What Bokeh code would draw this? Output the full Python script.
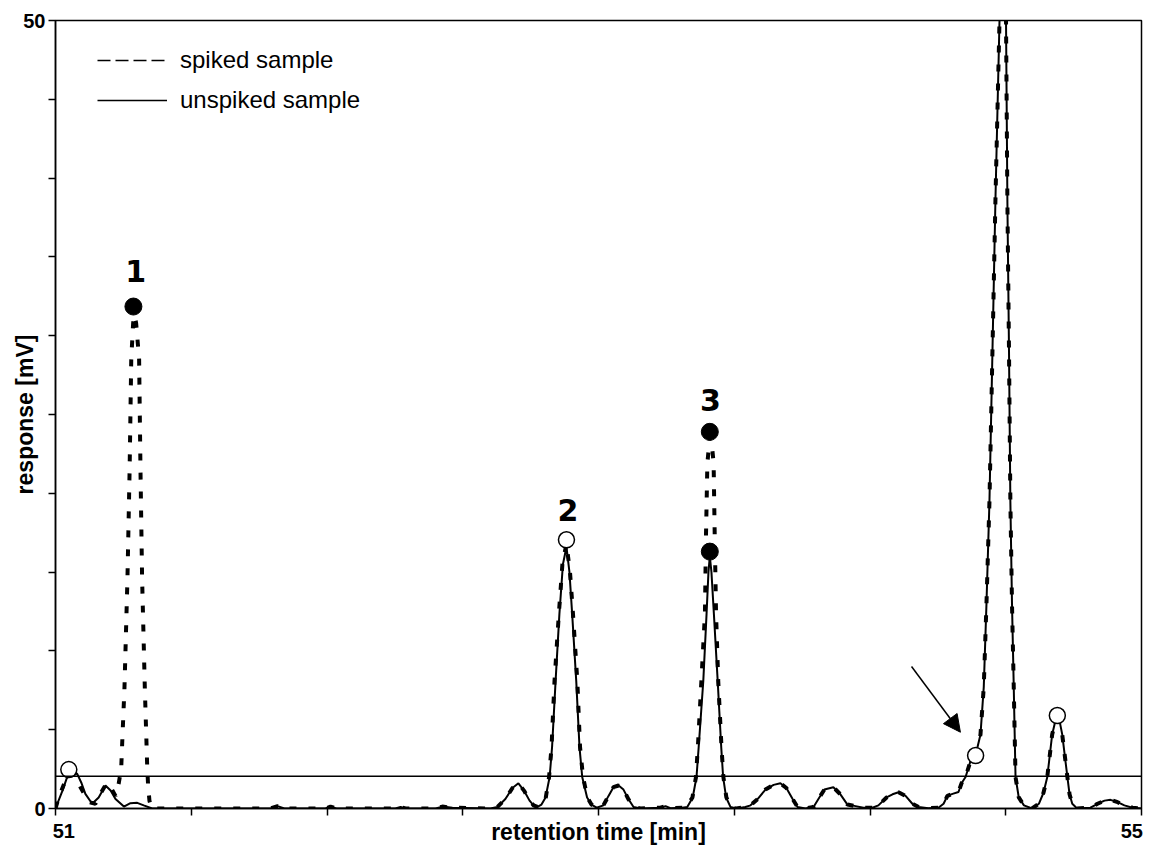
import math
from bokeh.plotting import figure
from bokeh.models import (Span, Arrow, NormalHead, FixedTicker, Legend, LegendItem)
from bokeh.embed import file_html
from bokeh.resources import INLINE
from bokeh.core.properties import value

# ---------------- data ----------------
x_ticks = [51, 51.5, 52, 52.5, 53, 53.5, 54, 54.5, 55]
y_ticks = [0, 5, 10, 15, 20, 25, 30, 35, 40, 45, 50]
x_tick_labels = {51: "\u00a0\u00a0\u00a051", 55: "55\u00a0"}
y_tick_labels = {0: "0", 50: "50"}
x_title = "retention time [min]"
y_title = "response [mV]"
threshold = 2.05

unspiked_t = [51.000, 51.025, 51.041, 51.059, 51.080, 51.096, 51.110, 51.135, 51.159, 51.184,
              51.203, 51.221, 51.252, 51.276, 51.301, 51.325, 51.356, 51.792, 51.818, 51.843,
              51.994, 52.013, 52.035, 52.252, 52.271, 52.289, 52.400, 52.425, 52.462, 52.602,
              52.628, 52.657, 52.683, 52.705, 52.727, 52.746, 52.761, 52.775, 52.790, 52.805,
              52.820, 52.829, 52.842, 52.856, 52.869, 52.882, 52.893, 52.903, 52.918, 52.930,
              52.940, 52.958, 52.974, 52.993, 53.018, 53.037, 53.055, 53.074, 53.092, 53.110,
              53.129, 53.155, 53.228, 53.247, 53.265, 53.309, 53.327, 53.347, 53.361, 53.369,
              53.386, 53.398, 53.405, 53.410, 53.416, 53.425, 53.439, 53.452, 53.459, 53.470,
              53.486, 53.508, 53.541, 53.560, 53.586, 53.615, 53.645, 53.670, 53.692, 53.715,
              53.733, 53.762, 53.792, 53.810, 53.832, 53.865, 53.891, 53.917, 53.947, 53.976,
              54.009, 54.031, 54.061, 54.083, 54.105, 54.131, 54.156, 54.179, 54.215, 54.252,
              54.271, 54.285, 54.304, 54.326, 54.337, 54.352, 54.370, 54.389, 54.407, 54.419,
              54.429, 54.440, 54.451, 54.462, 54.477, 54.488, 54.501, 54.506, 54.512, 54.517,
              54.523, 54.529, 54.536, 54.548, 54.567, 54.597, 54.622, 54.639, 54.653, 54.671,
              54.682, 54.691, 54.700, 54.708, 54.727, 54.735, 54.745, 54.763, 54.812, 54.838,
              54.864, 54.886, 54.912, 54.937, 54.967, 55.000]
unspiked_mv = [0.0, 1.1, 1.9, 2.3, 2.2, 1.6, 0.93, 0.3, 0.7, 1.46,
               1.14, 0.6, 0.12, 0.34, 0.36, 0.2, 0.0, 0.0, 0.15, 0.0,
               0.0, 0.12, 0.0, 0.0, 0.1, 0.0, 0.0, 0.12, 0.05, 0.0,
               0.1, 0.6, 1.3, 1.6, 1.1, 0.5, 0.2, 0.1, 0.25, 0.7,
               2.0, 3.9, 8.1, 12.35, 15.5, 16.6, 15.0, 12.35, 8.1, 3.9,
               2.0, 0.7, 0.25, 0.05, 0.2, 0.8, 1.35, 1.46, 1.2, 0.6,
               0.1, 0.0, 0.05, 0.15, 0.02, 0.05, 0.1, 0.7, 2.0, 3.9,
               8.1, 12.35, 15.0, 16.0, 15.0, 12.35, 8.1, 3.9, 2.0, 0.7,
               0.1, 0.0, 0.1, 0.2, 0.6, 1.2, 1.5, 1.6, 1.3, 0.6,
               0.1, 0.0, 0.1, 0.6, 1.2, 1.35, 0.9, 0.25, 0.15, 0.05,
               0.05, 0.2, 0.7, 0.9, 1.03, 0.8, 0.3, 0.1, 0.02, 0.05,
               0.3, 0.8, 0.93, 1.05, 1.6, 2.0, 3.0, 3.4, 4.7, 7.7,
               13.0, 19.5, 29.0, 38.6, 50.0, 54.5, 50.0, 38.6, 29.0, 19.5,
               13.0, 8.1, 2.0, 0.7, 0.2, 0.0, 0.3, 1.0, 2.0, 4.7,
               5.5, 5.7, 5.4, 4.7, 2.0, 0.9, 0.3, 0.0, 0.05, 0.3,
               0.5, 0.55, 0.4, 0.2, 0.05, 0.0]

spiked_t = [51.000, 51.012, 51.037, 51.067, 51.092, 51.123, 51.147, 51.166, 51.188, 51.203,
            51.221, 51.233, 51.242, 51.246, 51.254, 51.265, 51.273, 51.279, 51.286, 51.291,
            51.297, 51.308, 51.313, 51.319, 51.329, 51.338, 51.341, 51.346, 51.354, 51.792,
            51.818, 51.843, 51.994, 52.013, 52.035, 52.252, 52.271, 52.289, 52.400, 52.425,
            52.462, 52.602, 52.628, 52.657, 52.683, 52.705, 52.727, 52.746, 52.761, 52.775,
            52.790, 52.805, 52.818, 52.827, 52.838, 52.854, 52.867, 52.882, 52.895, 52.906,
            52.922, 52.932, 52.943, 52.959, 52.974, 52.993, 53.018, 53.037, 53.055, 53.074,
            53.092, 53.110, 53.129, 53.155, 53.228, 53.247, 53.265, 53.309, 53.324, 53.346,
            53.359, 53.366, 53.379, 53.392, 53.396, 53.401, 53.410, 53.418, 53.424, 53.428,
            53.433, 53.441, 53.453, 53.460, 53.471, 53.489, 53.508, 53.541, 53.560, 53.586,
            53.615, 53.645, 53.670, 53.692, 53.715, 53.733, 53.762, 53.792, 53.810, 53.832,
            53.865, 53.891, 53.917, 53.947, 53.976, 54.009, 54.031, 54.061, 54.083, 54.105,
            54.131, 54.156, 54.179, 54.215, 54.252, 54.271, 54.285, 54.304, 54.326, 54.337,
            54.352, 54.370, 54.389, 54.407, 54.419, 54.429, 54.440, 54.451, 54.462, 54.477,
            54.488, 54.501, 54.506, 54.512, 54.517, 54.523, 54.529, 54.536, 54.548, 54.567,
            54.597, 54.622, 54.639, 54.653, 54.671, 54.682, 54.691, 54.700, 54.708, 54.727,
            54.735, 54.745, 54.763, 54.812, 54.838, 54.864, 54.886, 54.912, 54.937, 54.967,
            55.000]
spiked_mv = [0.0, 0.7, 1.8, 2.3, 1.35, 0.4, 0.3, 0.95, 1.6, 1.35,
             0.8, 1.6, 2.54, 4.3, 7.64, 14.58, 21.5, 28.5, 30.8, 31.3,
             30.8, 28.5, 21.5, 14.58, 7.64, 2.54, 1.5, 0.5, 0.0, 0.0,
             0.15, 0.0, 0.0, 0.12, 0.0, 0.0, 0.1, 0.0, 0.0, 0.12,
             0.05, 0.0, 0.1, 0.6, 1.3, 1.6, 1.1, 0.5, 0.2, 0.1,
             0.25, 0.6, 2.0, 3.9, 8.1, 12.35, 15.5, 16.8, 15.0, 12.35,
             8.1, 3.9, 2.0, 0.7, 0.25, 0.05, 0.2, 0.8, 1.35, 1.46,
             1.2, 0.6, 0.1, 0.0, 0.05, 0.15, 0.02, 0.05, 0.1, 0.7,
             2.0, 3.9, 8.1, 12.35, 17.4, 21.9, 23.6, 23.0, 21.9, 17.4,
             12.35, 8.1, 3.9, 2.0, 0.7, 0.05, 0.0, 0.1, 0.2, 0.6,
             1.2, 1.5, 1.6, 1.3, 0.6, 0.1, 0.0, 0.1, 0.6, 1.2,
             1.35, 0.9, 0.25, 0.15, 0.05, 0.05, 0.2, 0.7, 0.9, 1.03,
             0.8, 0.3, 0.1, 0.02, 0.05, 0.3, 0.8, 0.93, 1.05, 1.6,
             2.0, 3.0, 3.4, 4.7, 7.7, 13.0, 19.5, 29.0, 38.6, 50.0,
             54.5, 50.0, 38.6, 29.0, 19.5, 13.0, 8.1, 2.0, 0.7, 0.2,
             0.0, 0.3, 1.0, 2.0, 4.7, 5.5, 5.7, 5.4, 4.7, 2.0,
             0.9, 0.3, 0.0, 0.05, 0.3, 0.5, 0.55, 0.4, 0.2, 0.05,
             0.0]

open_t = [51.049, 52.882, 54.389, 54.690]
open_mv = [2.47, 17.05, 3.36, 5.9]
filled_t = [51.287, 53.410, 53.410]
filled_mv = [31.85, 23.9, 16.3]
peak_names = ["1", "2", "3"]
peak_name_t = [51.295, 52.887, 53.412]
peak_name_mv = [34.1, 18.95, 25.9]
arrow_from = (54.153, 9.01)
arrow_to = (54.333, 4.84)
legend_labels = ["spiked sample", "unspiked sample"]

# ---------------- figure ----------------
p = figure(width=1148, height=850, x_range=(51, 55), y_range=(0, 50),
           output_backend="svg", toolbar_location=None,
           min_border_left=55, min_border_right=7, min_border_top=20,
           min_border_bottom=42)
p.background_fill_color = "white"
p.border_fill_color = "white"
p.outline_line_color = "black"
p.outline_line_width = 1.5
p.xgrid.grid_line_color = None
p.ygrid.grid_line_color = None

for ax, ticks, labels in ((p.xaxis[0], x_ticks, x_tick_labels),
                          (p.yaxis[0], y_ticks, y_tick_labels)):
    ax.ticker = FixedTicker(ticks=ticks)
    ax.major_label_overrides = {t: labels.get(t, "") for t in ticks}
    ax.major_label_text_font = "Liberation Sans"
    ax.major_label_text_font_style = "bold"
    ax.major_label_text_font_size = "20px"
    ax.major_label_text_color = "black"
    ax.axis_label_text_font = "Liberation Sans"
    ax.axis_label_text_font_style = "bold"
    ax.axis_label_text_font_size = "23px"
    ax.axis_label_text_color = "black"
    ax.axis_line_color = "black"
    ax.axis_line_width = 1.5
    ax.major_tick_line_color = "black"
    ax.major_tick_line_width = 1.5
    ax.major_tick_out = 7
    ax.major_tick_in = 0
    ax.minor_tick_line_color = None

p.xaxis.axis_label = x_title
p.xaxis.major_label_standoff = 4
p.xaxis.axis_label_standoff = -26
p.yaxis.axis_label = y_title
p.yaxis.major_label_standoff = 3
p.yaxis.axis_label_standoff = -18

# traces
p.line(unspiked_t, unspiked_mv, line_color="black", line_width=2)
p.line(spiked_t, spiked_mv, line_color="black", line_width=4, line_dash="7 12")

p.add_layout(Span(location=threshold, dimension="width", line_color="black", line_width=1.5))

p.scatter(open_t, open_mv, marker="circle", size=16, fill_color="white",
          line_color="black", line_width=1.5)
p.scatter(filled_t, filled_mv, marker="circle", size=17, fill_color="black",
          line_color="black", line_width=1)

p.text(x=peak_name_t, y=peak_name_mv, text=peak_names, text_font=value("DejaVu Sans"),
       text_font_style="bold", text_font_size="30px", text_align="center",
       text_baseline="middle", text_color="black")

p.add_layout(Arrow(end=NormalHead(size=17, fill_color="black", line_color="black"),
                   x_start=arrow_from[0], y_start=arrow_from[1],
                   x_end=arrow_to[0], y_end=arrow_to[1],
                   line_color="black", line_width=1.5))

# legend (thin sample lines, as in the original key)
nan = float("nan")
leg_dash = p.line([nan], [nan], line_color="black", line_width=1.5, line_dash="13 5")
leg_solid = p.line([nan], [nan], line_color="black", line_width=1.5)
legend = Legend(items=[LegendItem(label=legend_labels[0], renderers=[leg_dash]),
                       LegendItem(label=legend_labels[1], renderers=[leg_solid])],
                location=(42, 693), border_line_color=None, background_fill_alpha=0,
                glyph_width=70, glyph_height=30, spacing=10, padding=0, margin=0,
                label_standoff=13, label_text_font="Liberation Sans",
                label_text_font_size="24px", label_text_color="black")
p.add_layout(legend)

open("out.html", "w").write(file_html(p, INLINE))
